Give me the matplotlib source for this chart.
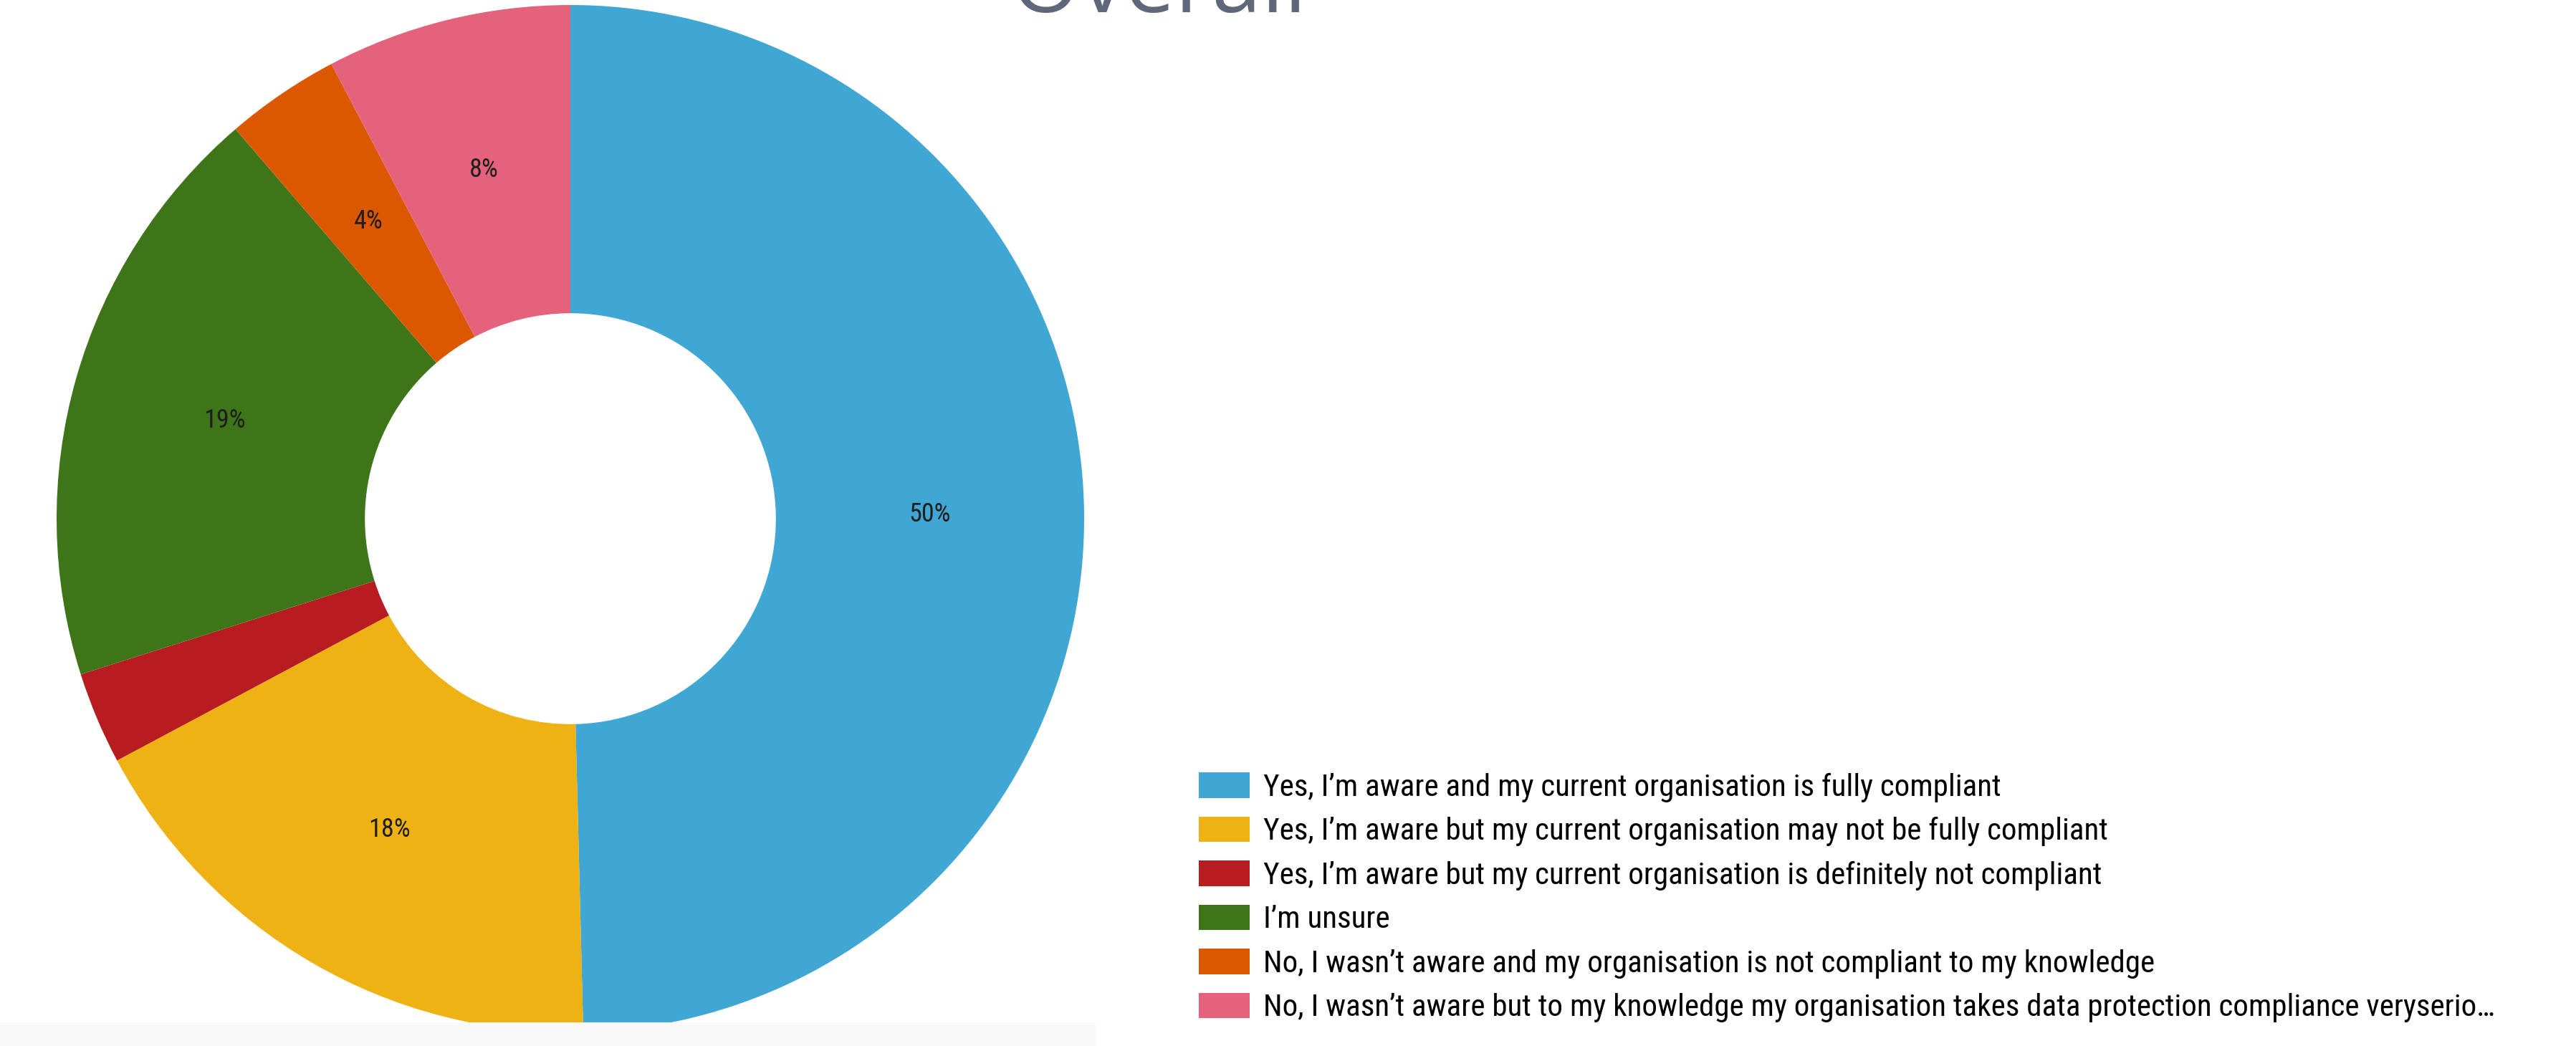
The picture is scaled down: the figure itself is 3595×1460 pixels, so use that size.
# -------- Packs --------
import matplotlib
matplotlib.use('Agg')
import matplotlib.pyplot as plt
import matplotlib.patches as mpatches

# -------- Data --------
answers = ['Yes, I\u2019m aware and my current organisation is fully compliant',
           'Yes, I\u2019m aware but my current organisation may not be fully compliant',
           'Yes, I\u2019m aware but my current organisation is definitely not compliant',
           'I\u2019m unsure',
           'No, I wasn\u2019t aware and my organisation is not compliant to my knowledge',
           'No, I wasn\u2019t aware but to my knowledge my organisation takes data protection compliance veryserio\u2026']

shares = [49.6, 17.6, 2.9, 18.6, 3.6, 7.7]  # % of respondents

colours = ['#40a6d3', '#eeb214', '#b61c20', '#3e7518', '#db5800', '#e5627c']

title = 'Overall'

# -------- Figure --------
W, H = 3595, 1460
fig = plt.figure(figsize=(W / 100, H / 100), dpi=100)

narrow = ['Roboto Condensed', 'DejaVu Sans']

# light strip along the bottom edge
fig.patches.append(mpatches.Rectangle((0, 0), 1529 / W, 33 / H, transform=fig.transFigure,
                                      facecolor='#f9f9f9', edgecolor='none', zorder=0))

# donut
cx, cy, r = 796, 724, 717
ax = fig.add_axes([(cx - r) / W, (H - cy - r) / H, 2 * r / W, 2 * r / H])


def pct_label(p):
    # small slices stay unlabelled
    return '%.0f%%' % p if p >= 3.5 else ''


wedges, texts, autotexts = ax.pie(shares, colors=colours, startangle=90, counterclock=False,
                                  autopct=pct_label, pctdistance=0.7, radius=1.0,
                                  wedgeprops=dict(width=0.6, edgecolor='none', linewidth=0),
                                  textprops=dict(family=narrow, fontsize=26, color='#1e1e1e'))
ax.set_xlim(-1, 1)
ax.set_ylim(-1, 1)
ax.set_aspect('equal')
ax.axis('off')

# legend
fig.legend(handles=wedges, labels=answers, loc='upper left',
           bbox_to_anchor=(1673 / W, 1 - 1078 / H), frameon=False,
           prop=dict(family=narrow, size=31), borderpad=0, borderaxespad=0,
           handlelength=1.66, handleheight=0.9, handletextpad=0.44, labelspacing=0.46)

# title (sits mostly above the top edge)
fig.text(1617 / W, 1 - 17 / H, title, ha='center', va='baseline',
         family='Open Sans', fontsize=90, color='#5f6878')

fig.savefig('out.png', dpi=100)
